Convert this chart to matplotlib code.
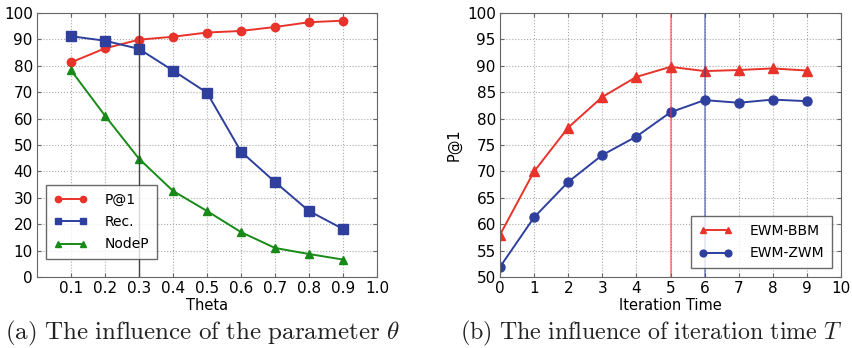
import matplotlib
matplotlib.use("Agg")
from matplotlib import pyplot as plt

# left panel: influence of theta
theta = [0.1, 0.2, 0.3, 0.4, 0.5, 0.6, 0.7, 0.8, 0.9]
p_at_1 = [81.3, 86.6, 89.9, 91.0, 92.6, 93.2, 94.7, 96.5, 97.1]
rec = [91.2, 89.5, 86.4, 78.2, 69.8, 47.5, 36.0, 25.0, 18.2]
nodep = [78.3, 61.1, 44.8, 32.6, 25.0, 17.0, 11.0, 8.7, 6.6]
theta_ticks = [0.1, 0.2, 0.3, 0.4, 0.5, 0.6, 0.7, 0.8, 0.9, 1.0]

# right panel: influence of iteration time
iters = [0, 1, 2, 3, 4, 5, 6, 7, 8, 9]
ewm_bbm = [58.0, 70.0, 78.3, 84.1, 87.9, 89.8, 89.0, 89.2, 89.5, 89.1]
ewm_zwm = [51.9, 61.3, 68.0, 73.1, 76.6, 81.2, 83.5, 83.0, 83.6, 83.3]

RED = '#e8332b'
BLUE = '#2e3f9e'
GREEN = '#178a17'

plt.rcParams['font.family'] = 'DejaVu Sans'
plt.rcParams['mathtext.fontset'] = 'cm'

fig = plt.figure(figsize=(8.52, 3.48), dpi=100)
ax1 = fig.add_axes([37/852, 1-277/348, 340/852, 264/348])
ax2 = fig.add_axes([500/852, 1-277/348, 341/852, 264/348])

def style(ax):
	ax.grid(True, linestyle=':', color='#aaaaaa', linewidth=0.8)
	ax.set_axisbelow(True)
	for s in ax.spines.values():
		s.set_color('#666666')
	ax.tick_params(direction='in', top=True, right=True, labelsize=11,
				   color='#666666', pad=3, length=3)

def legend(ax, loc, anchor):
	leg = ax.legend(loc=loc, bbox_to_anchor=anchor, fontsize=10,
					fancybox=False, numpoints=2, markerscale=0.75,
					handletextpad=1.3, handlelength=2.4, borderpad=0.55,
					labelspacing=0.6, borderaxespad=0)
	leg.get_frame().set_edgecolor('#444444')
	leg.get_frame().set_linewidth(1.0)
	return leg

ax1.plot(theta, p_at_1, '-o', color=RED, lw=1.4, ms=6, label='P@1')
ax1.plot(theta, rec, '-s', color=BLUE, lw=1.4, ms=6.5, label='Rec.')
ax1.plot(theta, nodep, '-^', color=GREEN, lw=1.4, ms=6, label='NodeP')
ax1.axvline(0.3, color='#444444', lw=1.0)
ax1.set_xlim(0, 1.0)
ax1.set_ylim(0, 100)
ax1.set_xticks(theta_ticks)
ax1.set_yticks(range(0, 101, 10))
ax1.set_xlabel('Theta', fontsize=10.5, labelpad=1)
style(ax1)
legend(ax1, 'lower left', (0.026, 0.068))

ax2.plot(iters, ewm_bbm, '-^', color=RED, lw=1.4, ms=6.5, label='EWM-BBM')
ax2.plot(iters, ewm_zwm, '-o', color=BLUE, lw=1.4, ms=6.5, label='EWM-ZWM')
ax2.axvline(5, color=RED, lw=1.3, alpha=0.55)
ax2.axvline(6, color=BLUE, lw=1.3, alpha=0.55)
ax2.set_xlim(0, 10)
ax2.set_ylim(50, 100)
ax2.set_xticks(range(0, 11))
ax2.set_yticks(range(50, 101, 5))
ax2.set_xlabel('Iteration Time', fontsize=10.5, labelpad=1)
ax2.set_ylabel('P@1', fontsize=10.5, labelpad=4)
style(ax2)
legend(ax2, 'lower right', (0.974, 0.034))

fig.text(5/852, 1-333/348, r'$\mathrm{(a)\ The\ influence\ of\ the\ parameter\ }\theta$',
		 fontsize=18, va='center', ha='left', color='#222222')
fig.text(460/852, 1-333/348, r'$\mathrm{(b)\ The\ influence\ of\ iteration\ time\ }T$',
		 fontsize=17.3, va='center', ha='left', color='#222222')

fig.savefig('out.png', dpi=100)
